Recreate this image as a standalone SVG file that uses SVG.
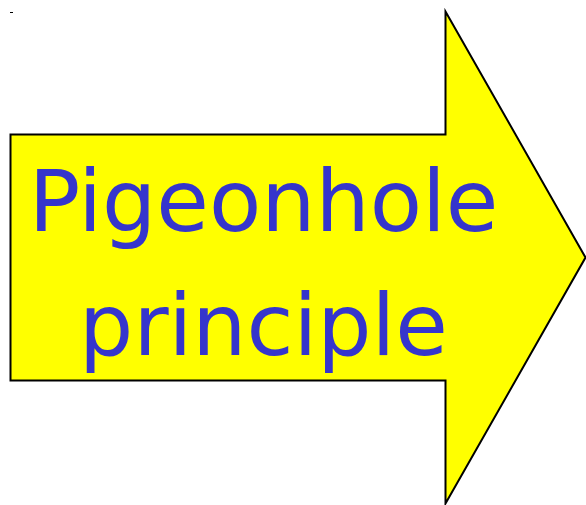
<svg xmlns="http://www.w3.org/2000/svg" width="586" height="505" viewBox="0 0 586 505">
<style>
.t{font-family:"DejaVu Sans",sans-serif;font-size:85.5px;fill:#3535cc;text-anchor:middle}
</style>
<rect width="586" height="505" fill="#fff"/>
<rect x="10" y="12" width="3" height="1" fill="#000"/>
<g id="arrow">
<path d="M10.5,134.5 H445.5 V11.5 L585.5,257.5 L445.5,503.5 V380.5 H10.5 Z" fill="#ffff00" stroke="#000" stroke-width="2" stroke-linejoin="miter"/>
<text class="t" x="263.5" y="231">Pigeonhole</text>
<text class="t" x="263.5" y="355">principle</text>
</g>
</svg>
